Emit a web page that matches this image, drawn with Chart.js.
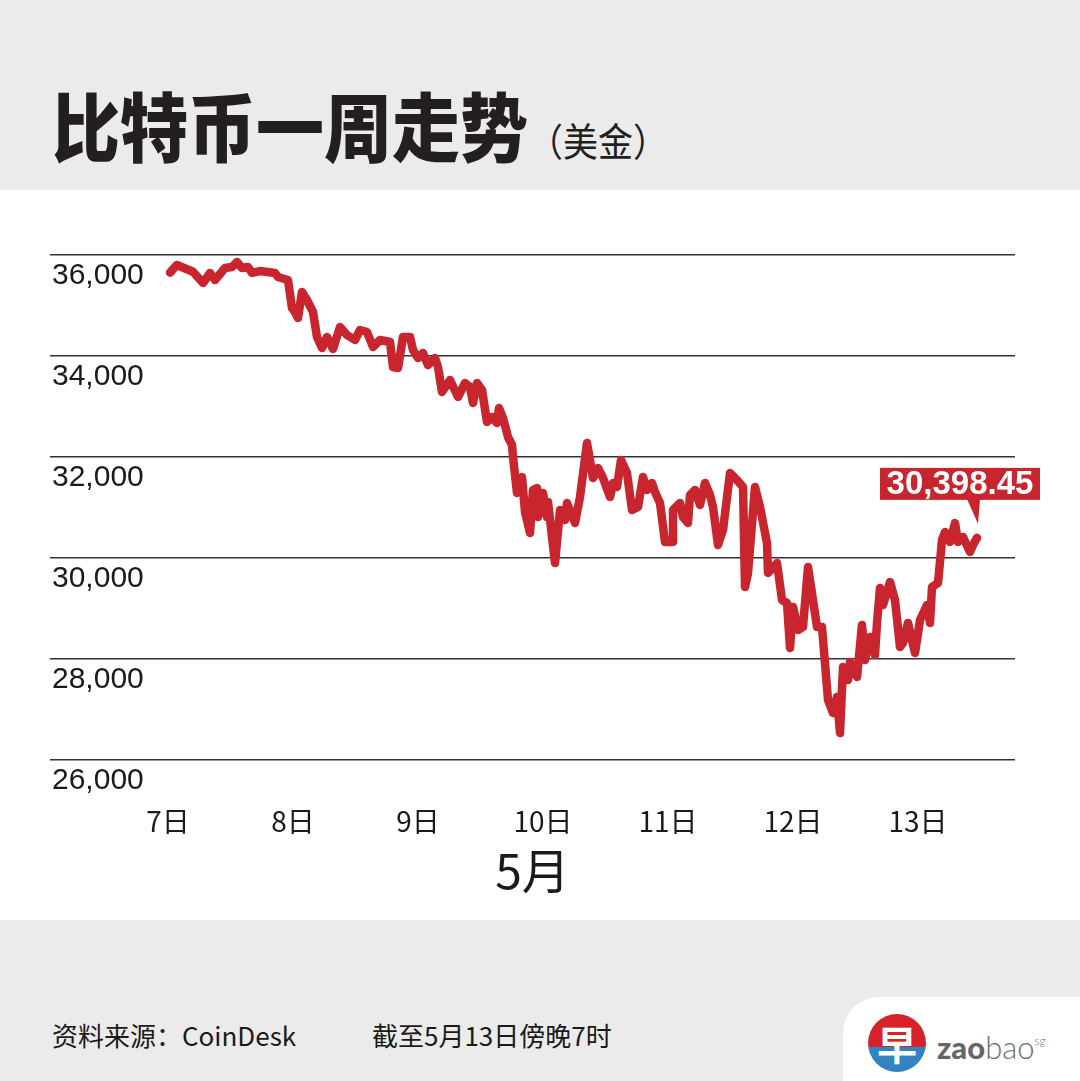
<!DOCTYPE html>
<html lang="zh">
<head>
<meta charset="utf-8">
<title>比特币一周走势</title>
<script src="https://cdn.jsdelivr.net/npm/chart.js@4/dist/chart.umd.min.js"></script>
<style>
  html, body { margin: 0; padding: 0; }
  body {
    width: 1080px; height: 1081px; position: relative; overflow: hidden;
    background: #fff; font-family: "Noto Sans CJK SC", "Noto Sans", sans-serif; color: #1a1a1a;
  }
  .band { position: absolute; left: 0; width: 1080px; background: #ebebeb; }
  #header { top: 0; height: 190px; }
  #footer { top: 920px; height: 161px; }
  #title {
    position: absolute; left: 52px; top: 87px; margin: 0;
    font-size: 68px; line-height: 1; font-weight: 900; color: #231f20; white-space: nowrap;
    transform: scaleY(1.1); transform-origin: left top;
  }
  #title span { font-size: 35px; font-weight: 400; }
  #chartBox { position: absolute; left: 0; top: 190px; width: 1080px; height: 730px; }
  .note { position: absolute; top: 1020px; font-size: 26px; line-height: 30px; color: #1a1a1a; white-space: nowrap; }
  #logo {
    position: absolute; left: 843px; top: 997px; width: 237px; height: 84px;
    background: #fff; border-top-left-radius: 36px;
  }
  #badge {
    position: absolute; left: 25px; top: 17px; width: 58px; height: 58px; border-radius: 50%;
    background: linear-gradient(180deg, #d6232a 0 57%, #3482bf 57% 100%);
    color: #fff; font-size: 40px; font-weight: 700; line-height: 58px; text-align: center; overflow: hidden;
  }
  #brand {
    position: absolute; left: 94px; top: 24px; font-family: Lato, "Open Sans", sans-serif;
    font-size: 31px; line-height: 40px; color: #6d6d6d; white-space: nowrap;
  }
  #brand b { font-weight: 900; color: #666; }
  #brand i { font-style: normal; font-weight: 300; }
  #brand sup { font-size: 12px; font-weight: 300; vertical-align: 14px; }
</style>
</head>
<body>
<div id="header" class="band">
  <h1 id="title">比特币一周走势<span>（美金）</span></h1>
</div>
<div id="chartBox"><canvas id="chart" width="1080" height="730"></canvas></div>
<div id="footer" class="band"></div>
<div class="note" style="left:52px">资料来源：CoinDesk</div>
<div class="note" style="left:372px">截至5月13日傍晚7时</div>
<div id="logo">
  <div id="badge">早</div>
  <div id="brand"><b>zao</b><i>bao</i><sup>sg</sup></div>
</div>

<script>
// Day of May (fractional) and BTC price in USD
const days = [
  7.016, 7.070, 7.200, 7.280, 7.336, 7.376, 7.456, 7.512, 7.552, 7.592,
  7.640, 7.672, 7.736, 7.856, 7.880, 7.960, 7.992, 8.016, 8.040, 8.072,
  8.112, 8.160, 8.192, 8.232, 8.272, 8.320, 8.376, 8.432, 8.496, 8.536,
  8.592, 8.640, 8.696, 8.776, 8.800, 8.840, 8.880, 8.936, 8.960, 9.000,
  9.040, 9.080, 9.136, 9.160, 9.192, 9.256, 9.320, 9.376, 9.416, 9.440,
  9.472, 9.512, 9.552, 9.592, 9.632, 9.648, 9.680, 9.720, 9.752, 9.760,
  9.792, 9.832, 9.856, 9.896, 9.920, 9.952, 9.960, 10.000, 10.032, 10.040,
  10.096, 10.136, 10.176, 10.192, 10.256, 10.296, 10.352, 10.400, 10.440, 10.480,
  10.536, 10.560, 10.592, 10.624, 10.672, 10.712, 10.760, 10.800, 10.832, 10.872,
  10.896, 10.936, 10.976, 11.032, 11.040, 11.096, 11.120, 11.160, 11.176, 11.216,
  11.256, 11.296, 11.336, 11.360, 11.400, 11.440, 11.496, 11.552, 11.600, 11.616,
  11.640, 11.696, 11.736, 11.792, 11.800, 11.872, 11.912, 11.952, 11.976, 12.000,
  12.040, 12.080, 12.120, 12.192, 12.232, 12.280, 12.320, 12.352, 12.376, 12.400,
  12.440, 12.456, 12.512, 12.552, 12.576, 12.616, 12.656, 12.672, 12.696, 12.720,
  12.776, 12.816, 12.856, 12.880, 12.920, 12.976, 13.016, 13.072, 13.096, 13.112,
  13.160, 13.192, 13.216, 13.256, 13.296, 13.320, 13.360, 13.416, 13.440, 13.472
];
const prices = [
  35650, 35802, 35669, 35446, 35644, 35505, 35743, 35762, 35861, 35743,
  35762, 35644, 35683, 35644, 35564, 35505, 34950, 34871, 34752, 35267,
  35109, 34871, 34376, 34158, 34376, 34139, 34574, 34416, 34317, 34515,
  34475, 34178, 34317, 34277, 33782, 33762, 34376, 34376, 34119, 33960,
  34059, 33822, 33960, 33782, 33287, 33525, 33188, 33465, 33386, 33069,
  33465, 33327, 32693, 32792, 32673, 32970, 32772, 32396, 32238, 32000,
  31287, 31604, 30911, 30495, 31347, 31386, 30812, 31287, 30812, 31109,
  29901, 30950, 30752, 31089, 30693, 31208, 32277, 31584, 31782, 31584,
  31208, 31485, 31406, 31941, 31683, 30950, 31010, 31604, 31347, 31485,
  31307, 31089, 30317, 30317, 30950, 31089, 30812, 30693, 31248, 31347,
  31050, 31485, 31248, 31010, 30257, 30554, 31683, 31545, 31406, 29426,
  29703, 31406, 31010, 30297, 29703, 29901, 29168, 29109, 28218, 29030,
  28574, 28634, 29822, 28634, 28634, 27188, 26931, 27248, 26535, 27842,
  27584, 27941, 27644, 28673, 27980, 28436, 28079, 28713, 29406, 29069,
  29525, 29168, 28238, 28317, 28713, 28119, 28772, 29069, 28713, 29426,
  29505, 30356, 30515, 30317, 30693, 30317, 30416, 30119, 30257, 30398.45
];
const dayTicks = [7, 8, 9, 10, 11, 12, 13];
const priceTicks = [26000, 28000, 30000, 32000, 34000, 36000];
const lastLabel = '30,398.45';

const RED = '#c9252f';

// callout box above the last point
const lastPointLabel = {
  id: 'lastPointLabel',
  afterDatasetsDraw(chart) {
    const pts = chart.getDatasetMeta(0).data;
    const p = pts[pts.length - 1];
    const ctx = chart.ctx;
    const boxW = 160, boxH = 32;
    const right = p.x + 63, bottom = p.y - 38;
    ctx.save();
    ctx.fillStyle = RED;
    ctx.fillRect(right - boxW, bottom - boxH, boxW, boxH);
    ctx.beginPath();
    ctx.moveTo(p.x - 10, bottom - 1);
    ctx.lineTo(p.x + 3, bottom - 1);
    ctx.lineTo(p.x + 1, p.y - 14);
    ctx.closePath();
    ctx.fill();
    ctx.fillStyle = '#fff';
    ctx.font = 'bold 33px "Liberation Sans", Arial, sans-serif';
    ctx.textAlign = 'center';
    ctx.textBaseline = 'middle';
    ctx.fillText(lastLabel, right - boxW / 2, bottom - boxH / 2 + 1);
    ctx.restore();
  }
};

new Chart(document.getElementById('chart'), {
  type: 'line',
  data: {
    datasets: [{
      data: days.map((d, i) => ({ x: d, y: prices[i] })),
      borderColor: RED,
      borderWidth: 8.5,
      borderJoinStyle: 'round',
      borderCapStyle: 'round',
      pointRadius: 0,
      tension: 0,
      clip: false
    }]
  },
  options: {
    responsive: false,
    animation: false,
    layout: { padding: { left: 50, right: 65, top: 65, bottom: 0 } },
    plugins: { legend: { display: false }, tooltip: { enabled: false } },
    scales: {
      x: {
        type: 'linear',
        min: 6.056,
        max: 13.776,
        afterBuildTicks: (scale) => { scale.ticks = dayTicks.map(v => ({ value: v })); },
        afterFit: (scale) => { scale.height = 160; },
        grid: { display: false },
        border: { display: false },
        ticks: {
          autoSkip: false,
          maxRotation: 0,
          padding: 37,
          color: '#1a1a1a',
          font: { family: '"Noto Sans CJK SC", sans-serif', size: 28 },
          callback: (v) => v + '日'
        },
        title: {
          display: true,
          text: '5月',
          color: '#1a1a1a',
          font: { family: '"Noto Sans CJK SC", sans-serif', size: 48 },
          padding: { top: 0, bottom: 20 }
        }
      },
      y: {
        min: 26000,
        max: 36000,
        afterBuildTicks: (scale) => { scale.ticks = priceTicks.map(v => ({ value: v })); },
        afterFit: (scale) => { scale.width = 0; },
        border: { display: false },
        grid: { color: '#333', lineWidth: 1.5, drawTicks: false },
        ticks: {
          mirror: true,
          padding: 2,
          labelOffset: 21,
          color: '#1a1a1a',
          font: { family: '"Liberation Sans", Arial, sans-serif', size: 30 },
          callback: (v) => v.toLocaleString('en-US')
        }
      }
    }
  },
  plugins: [lastPointLabel]
});
</script>
</body>
</html>
